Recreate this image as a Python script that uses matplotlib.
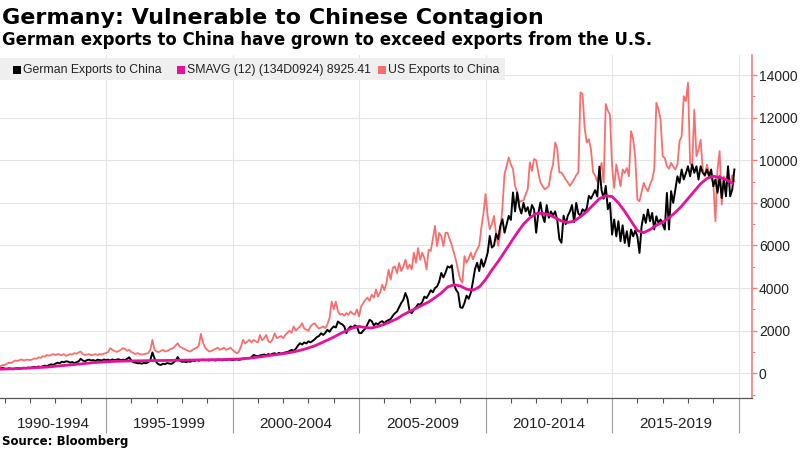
import numpy as np
import pandas as pd
import matplotlib
matplotlib.use("Agg")
import matplotlib.pyplot as plt
import matplotlib.transforms as mtransforms
from matplotlib.patches import Rectangle

# German exports to China, monthly, Oct 1990 - Nov 2019
german_exports = [
    240, 230, 250,
    220, 200, 240, 210, 190, 230, 250, 210, 240, 260, 230, 270,
    250, 280, 300, 270, 320, 290, 330, 360, 330, 390, 420, 400,
    450, 500, 470, 540, 520, 560, 550, 500, 530, 480, 520, 560,
    680, 600, 560, 620, 640, 600, 620, 580, 640, 620, 600, 650,
    620, 640, 600, 650, 620, 640, 660, 610, 640, 620, 680, 750,
    600, 520, 500, 470, 480, 450, 490, 470, 520, 620, 980, 700,
    500, 420, 390, 450, 430, 480, 460, 440, 500, 600, 760, 600,
    540, 550, 520, 560, 540, 600, 580, 620, 590, 620, 640, 610,
    620, 600, 640, 620, 600, 650, 630, 610, 640, 620, 650, 640,
    620, 640, 660, 630, 650, 700, 680, 720, 700, 760, 860, 820,
    800, 840, 860, 880, 850, 900, 870, 920, 940, 900, 960, 920,
    950, 980, 1000, 1040, 1100, 1060, 1150, 1300, 1410, 1350, 1450, 1400,
    1500, 1450, 1520, 1600, 1700, 1750, 1880, 1800, 1900, 2040, 1950, 2100,
    2200, 2150, 2430, 2350, 2300, 2200, 1880, 2100, 2200, 2150, 2250, 2200,
    1900, 1880, 2000, 2100, 2300, 2510, 2450, 2250, 2350, 2300, 2400, 2450,
    2350, 2450, 2500, 2550, 2700, 2820, 2900, 3100, 3300, 3450, 3770, 3500,
    2900, 2820, 3000, 3100, 3250, 3220, 3350, 3600, 3530, 3700, 3900, 3800,
    4000, 4080, 4300, 4710, 4500, 4720, 5020, 4960, 5070, 4200, 3920, 3780,
    3100, 3070, 3300, 3650, 3500, 3780, 4300, 4900, 5190, 4800, 5350, 5000,
    5300, 5660, 6450, 5900, 6000, 6550, 6300, 6920, 7230, 6600, 7000, 7390,
    7200, 8490, 7600, 8490, 7800, 7500, 8000, 7600, 7800, 7400, 7900, 7700,
    6600, 7500, 8020, 7400, 7100, 7900, 7300, 7600, 7400, 7600, 7200, 6300,
    6130, 7400, 7000, 7400, 7600, 7900, 7100, 8000, 7500, 7400, 7700, 7600,
    7750, 8330, 8200, 8400, 8600, 8300, 9700, 8600, 8200, 8800, 7700, 8000,
    6510, 7220, 6430, 7140, 6200, 6950, 6120, 6670, 5960, 6750, 6430, 6700,
    6430, 5650, 6900, 7450, 7060, 7690, 7140, 7530, 6750, 7370, 7060, 7220,
    7000, 6750, 8470, 6750, 8550, 8000, 8630, 9250, 8940, 9570, 9100, 9400,
    9720, 9250, 9800, 9410, 9720, 9100, 9720, 9410, 9300, 9570, 9250, 9570,
    8780, 9100, 8470, 9250, 8230, 9100, 8310, 9720, 8310, 8630, 9570,
]

# US exports to China, monthly, Oct 1990 - Nov 2019
us_exports = [
    300, 350, 380,
    400, 450, 500, 480, 550, 600, 580, 620, 650, 600, 630, 640,
    620, 650, 700, 680, 750, 720, 800, 780, 860, 820, 870, 900,
    860, 900, 880, 850, 900, 820, 860, 900, 880, 950, 920, 980,
    1020, 900, 860, 880, 900, 850, 870, 900, 860, 900, 880, 920,
    950, 1000, 1180, 1100, 1050, 1000, 1050, 1100, 1180, 1150, 1050, 1100,
    1000, 950, 900, 950, 900, 880, 900, 920, 950, 1100, 1570, 1100,
    1020, 1000, 1050, 1100, 1020, 1050, 1100, 1150, 1200, 1300, 1410, 1250,
    1200, 1150, 1100, 1050, 1020, 1100, 1150, 1200, 1300, 1850, 1450, 1200,
    1100, 1020, 1050, 1100, 1150, 1200, 1100, 1150, 1200, 1100, 1150, 1200,
    1100, 1020, 940, 1020, 1250, 1570, 1400, 1490, 1570, 1450, 1570, 1500,
    1450, 1800, 1550, 1650, 1800, 1500, 1450, 1600, 1880, 1650, 1700, 1750,
    1650, 1800, 1900, 2000, 1900, 2200, 2000, 2100, 2200, 2350, 2100, 2050,
    2000, 2200, 2300, 2350, 2200, 2100, 2150, 2200, 2120, 2300, 2600, 3370,
    3000, 3370, 2900, 2750, 2800, 2700, 2830, 2750, 2900, 2800, 2750, 3000,
    2670, 3140, 3300, 3450, 3550, 3400, 3690, 3550, 3930, 3600, 3800, 4160,
    3900, 4240, 4860, 4400, 4950, 5020, 4700, 5180, 4800, 5000, 5340, 4900,
    5100, 4880, 5660, 5190, 5880, 5330, 5660, 5400, 4880, 5800, 5740, 6300,
    6920, 5970, 6590, 6450, 5970, 6600, 6590, 6290, 6000, 5660, 5300, 4800,
    4410, 4250, 5500, 5190, 5400, 5660, 5350, 5600, 5820, 6000, 6840, 7500,
    8410, 7390, 6760, 7000, 7390, 6500, 5980, 6600, 7800, 9350, 9740, 10130,
    9800, 9590, 8800, 8500, 8030, 8100, 8110, 8400, 8640, 9900, 9500, 10060,
    10000, 9430, 8960, 8800, 8640, 8700, 8800, 9430, 9800, 10840, 10530, 9430,
    9430, 9270, 9100, 8960, 8800, 8950, 9110, 9300, 9430, 13190, 13110, 11500,
    10840, 10990, 10500, 9430, 9270, 9000, 9430, 9880, 8960, 12640, 12330, 12150,
    9720, 8700, 9800, 9300, 8780, 9570, 9400, 9640, 9250, 11370, 11000, 10110,
    8160, 8080, 8500, 8940, 8700, 8550, 8860, 9100, 9570, 12700, 12400, 11920,
    10190, 10100, 9720, 9600, 9880, 9700, 9570, 9800, 10900, 11130, 13010, 12780,
    13640, 9880, 9700, 12380, 10190, 10500, 10970, 9570, 9250, 9800, 9400, 9200,
    8940, 7140, 9570, 10430, 7920, 9250, 8550, 9410, 8940, 9300, 9000,
]

# SMAVG (12) of German exports, read quarterly, Oct 1990 - Oct 2019
smavg_12 = [
    190,
    200, 210, 220, 235,
    250, 265, 280, 300,
    330, 360, 385, 410,
    440, 470, 500, 520,
    540, 555, 565, 575,
    580, 585, 590, 595,
    600, 600, 605, 610,
    615, 620, 625, 630,
    635, 640, 645, 650,
    660, 670, 690, 720,
    760, 800, 840, 880,
    920, 970, 1030, 1100,
    1190, 1290, 1420, 1560,
    1700, 1860, 2000, 2130,
    2200, 2150, 2130, 2200,
    2300, 2430, 2560, 2750,
    2900, 3050, 3200, 3350,
    3550, 3770, 4050, 4160,
    4100, 3950, 3900, 4050,
    4400, 4850, 5250, 5700,
    6150, 6600, 7000, 7300,
    7500, 7510, 7450, 7300,
    7150, 7080, 7150, 7350,
    7600, 7900, 8200, 8330,
    8300, 8000, 7600, 7150,
    6700, 6600, 6750, 6950,
    7100, 7300, 7550, 7850,
    8200, 8550, 8900, 9150,
    9250, 9200, 9100, 8925,
]

period_labels = ["1990-1994", "1995-1999", "2000-2004", "2005-2009", "2010-2014", "2015-2019"]
period_starts = [1990, 1995, 2000, 2005, 2010, 2015]
y_ticks = [0, 2000, 4000, 6000, 8000, 10000, 12000, 14000]

BLACK = "#000000"
MAGENTA = "#e5139a"
SALMON = "#f86f6f"
AXIS_RED = "#f08080"
GRID = "#e4e4e4"
SANS = ["Liberation Sans", "DejaVu Sans"]


def to_year(dates):
    return dates.year + (dates.month - 1) / 12


months = to_year(pd.date_range("1990-10-01", periods=len(german_exports), freq="MS"))
quarters = to_year(pd.date_range("1990-10-01", periods=len(smavg_12), freq="QS-JAN"))

W, H = 800, 450
fig = plt.figure(figsize=(8, 4.5), dpi=100)
ax = fig.add_axes([0, 1 - 398 / H, 752 / W, (398 - 55) / H])

ax.plot(months, us_exports, color=SALMON, lw=1.3, zorder=3)
ax.plot(months, german_exports, color=BLACK, lw=1.4, zorder=4)
ax.plot(quarters, smavg_12, color=MAGENTA, lw=2.0, zorder=5)

ax.set_xlim(1990.81, 2020.53)
ax.set_ylim(-1160, 14944)

# right axis in red
ax.yaxis.tick_right()
ax.set_yticks(y_ticks)
ax.set_yticks(range(-1000, 15000, 1000), minor=True)
ax.tick_params(axis="y", which="major", colors=AXIS_RED, length=3.5, width=1, pad=1.5,
               labelcolor="#222222", labelsize=10, labelfontfamily="Liberation Sans")
ax.tick_params(axis="y", which="minor", colors=AXIS_RED, length=2.5, width=0.8)

for side in ["left", "top"]:
    ax.spines[side].set_visible(False)
ax.spines["right"].set_color(AXIS_RED)
ax.spines["right"].set_linewidth(1.2)
ax.spines["bottom"].set_color("#555555")
ax.spines["bottom"].set_linewidth(0.9)

ax.grid(axis="y", color=GRID, lw=0.8, zorder=0)
for yr in period_starts[1:] + [2020]:
    ax.axvline(yr, color=GRID, lw=0.8, zorder=0)

# bottom: yearly ticks, long separators every five years
ax.set_xticks(period_starts[1:] + [2020])
ax.set_xticks(range(1991, 2021), minor=True)
ax.tick_params(axis="x", which="major", length=25, width=0.8, colors="#999999", labelbottom=False)
ax.tick_params(axis="x", which="minor", length=3.5, width=0.8, colors="#555555")

xmin = ax.get_xlim()[0]
trans = mtransforms.blended_transform_factory(ax.transData, ax.transAxes)
for start, lab in zip(period_starts, period_labels):
    mid = (max(start, xmin) + start + 5) / 2
    ax.text(mid, -(424 - 398) / (398 - 55), lab, transform=trans, ha="center", va="center",
            fontsize=11, family=SANS, color="#222222")

# titles and source
fig.text(2 / W, 1 - 24.5 / H, "Germany: Vulnerable to Chinese Contagion", fontsize=16,
         weight="bold", ha="left", va="baseline")
fig.text(2 / W, 1 - 45 / H, "German exports to China have grown to exceed exports from the U.S.",
         fontsize=11.9, weight="bold", ha="left", va="baseline")
fig.text(2 / W, 1 - 442 / H, "Source: Bloomberg", fontsize=8.5, weight="bold", ha="left", va="center")

# legend strip
fig.patches.append(Rectangle((0, 1 - 80 / H), 505 / W, 22 / H, transform=fig.transFigure,
                             facecolor="#efefef", edgecolor="none", zorder=6))
legend_items = [(13, BLACK, "German Exports to China"),
                (177, MAGENTA, "SMAVG (12) (134D0924) 8925.41"),
                (378, SALMON, "US Exports to China")]
for x0, col, lab in legend_items:
    fig.patches.append(Rectangle((x0 / W, 1 - 73.5 / H), 8 / W, 8 / H, transform=fig.transFigure,
                                 facecolor=col, edgecolor="none", zorder=7))
    fig.text((x0 + 10) / W, 1 - 69.5 / H, lab, fontsize=8.8, family=SANS, color="#222222",
             ha="left", va="center", zorder=8)

fig.savefig("out.png", dpi=100)
